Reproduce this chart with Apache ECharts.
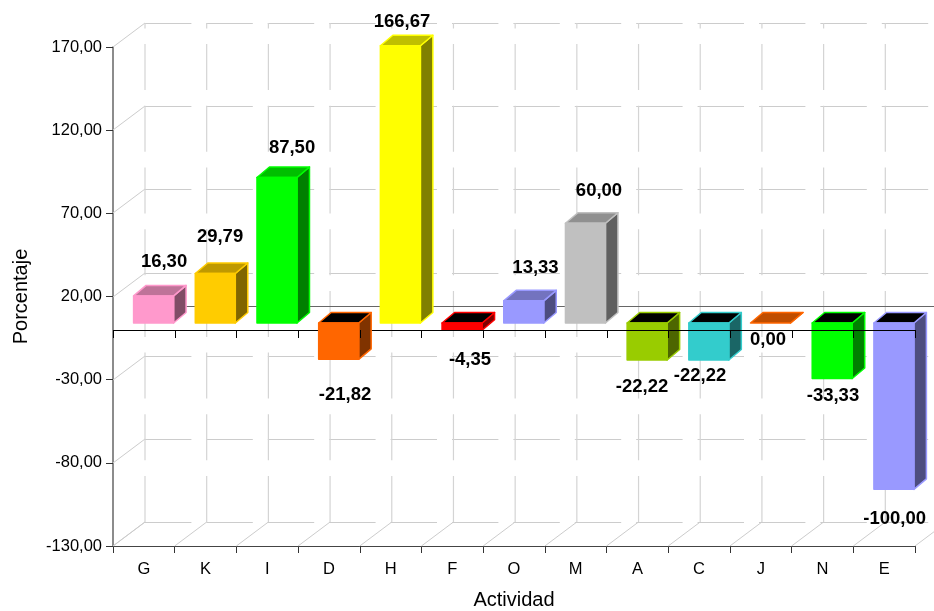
<!DOCTYPE html>
<html>
<head>
<meta charset="utf-8">
<style>html,body{margin:0;padding:0;background:#fff}#c{width:934px;height:611px}</style>
<script src="https://cdn.jsdelivr.net/npm/echarts@6/dist/echarts.min.js"></script>
</head>
<body>
<div id="c"></div>
<script>
const categories = ['G','K','I','D','H','F','O','M','A','C','J','N','E'];
const values = [16.30,29.79,87.50,-21.82,166.67,-4.35,13.33,60.00,-22.22,-22.22,0.00,-33.33,-100.00];
const yTicks = [-130,-80,-30,20,70,120,170];
const barColors = ['#FF99CC','#FFCC00','#00FF00','#FF6600','#FFFF00','#FF0000','#9999FF','#C0C0C0','#99CC00','#33CCCC','#FF6600','#00FF00','#9999FF'];

// style constants (pixels)
const FONT = '"Liberation Sans", Arial, sans-serif';
const WALL_DX = 32, WALL_DY = 24;      // depth of the 3D back wall
const BAR_DX = 12.5, BAR_DY = 10.5;    // depth of each box
const BAR_W = 40;
const labelNudge = [[20.2,-40.7],[14.5,-43.3],[24.8,-36.3],[16.1,28.9],[11.4,-30.6],[17.7,23],[21.5,-39.9],[23.3,-39],[4.6,20.2],[1,9.2],[7.2,10.2],[10.5,10.8],[10.5,22.6]];
const aboveZeroLine = ['D'];

const fmt = v => v.toFixed(2).replace('.', ',');
function shade(hex, f) {
  const n = parseInt(hex.slice(1), 16);
  const c = [n >> 16 & 255, n >> 8 & 255, n & 255].map(x => Math.round(x * f));
  return 'rgb(' + c.join(',') + ')';
}
const indexed = values.map((v, i) => [i, v]);

function renderWall(params, api) {
  const cs = params.coordSys;
  const band = api.size([1, 0])[0];
  const kids = [];
  const grey = '#cccccc';
  const backBottom = cs.y + cs.height - WALL_DY;
  const backTop = cs.y - WALL_DY;
  yTicks.forEach(t => {
    const y = Math.round(api.coord([0, t])[1]);
    kids.push({type:'line', shape:{x1:cs.x, y1:y, x2:cs.x + WALL_DX, y2:y - WALL_DY}, style:{stroke:grey, lineWidth:1}});
    kids.push({type:'line', shape:{x1:cs.x + WALL_DX, y1:y - WALL_DY + .5, x2:960, y2:y - WALL_DY + .5},
      style:{stroke:grey, lineWidth:1, lineDash:[46.4,15]}});
  });
  for (let k = 0; k <= categories.length; k++) {
    const x = cs.x + k * band;
    kids.push({type:'line', shape:{x1:x, y1:cs.y + cs.height, x2:x + WALL_DX, y2:backBottom}, style:{stroke:grey, lineWidth:1}});
    if (k < categories.length) {
      kids.push({type:'line', shape:{x1:x + WALL_DX, y1:backBottom, x2:x + WALL_DX, y2:backTop},
        style:{stroke:'#d4d4d4', lineWidth:1.2, lineDash:[46,15.7]}});
    }
  }
  const y0 = Math.round(api.coord([0, 0])[1]) - WALL_DY + .5;
  kids.push({type:'line', shape:{x1:cs.x + WALL_DX, y1:y0, x2:934, y2:y0}, style:{stroke:'#666666', lineWidth:1}});
  return {type:'group', children:kids};
}

function renderBar(params, api) {
  const i = api.value(0), v = api.value(1);
  const base = barColors[i];
  const c0 = api.coord([i, 0]), c1 = api.coord([i, v]);
  const left = c0[0] + (WALL_DX - BAR_DX) / 2 - BAR_W / 2;
  const shift = (WALL_DY - BAR_DY) / 2;
  const right = left + BAR_W;
  const yBase = c0[1] - shift, yEnd = c1[1] - shift;
  const topY = Math.min(yBase, yEnd), botY = Math.max(yBase, yEnd);
  const stroke = {stroke: base, lineWidth: 1.5, lineJoin: 'round'};
  const poly = (pts, fill) => ({type:'polygon', shape:{points:pts}, style:Object.assign({fill}, stroke)});
  const kids = [];
  kids.push(poly([[right,topY],[right+BAR_DX,topY-BAR_DY],[right+BAR_DX,botY-BAR_DY],[right,botY]], shade(base,.5)));
  const topFill = v < 0 ? '#000000' : shade(base,.75);
  kids.push(poly([[left,topY],[left+BAR_DX,topY-BAR_DY],[right+BAR_DX,topY-BAR_DY],[right,topY]], topFill));
  if (v !== 0) kids.push(poly([[left,topY],[right,topY],[right,botY],[left,botY]], base));
  return {type:'group', children:kids};
}

function renderZeroLine(params, api) {
  const cs = params.coordSys;
  const y = Math.round(api.coord([0, 0])[1]) + .5;
  return {type:'line', shape:{x1:cs.x, y1:y, x2:cs.x + cs.width, y2:y}, style:{stroke:'#000', lineWidth:1.2}};
}

function renderZeroTicks(params, api) {
  const cs = params.coordSys;
  const band = api.size([1, 0])[0];
  const y = Math.round(api.coord([0, 0])[1]);
  const kids = [];
  for (let k = 0; k <= categories.length; k++) {
    const x = Math.round(cs.x + k * band) + .5;
    kids.push({type:'line', shape:{x1:x, y1:y, x2:x, y2:y + 8}, style:{stroke:'#000', lineWidth:1}});
  }
  return {type:'group', children:kids};
}

function renderLabel(params, api) {
  const i = api.value(0), v = api.value(1);
  const c = api.coord([i, v]);
  return {type:'text', style:{
    x: c[0] + labelNudge[i][0], y: c[1] + labelNudge[i][1],
    text: fmt(v), textAlign:'center', textVerticalAlign:'middle',
    font: 'bold 18.5px ' + FONT, fill:'#000'
  }};
}

const customBase = {type:'custom', coordinateSystem:'cartesian2d', encode:{x:0, y:1}, clip:false, silent:true, animation:false};
const chart = echarts.init(document.getElementById('c'), null, {renderer:'canvas'});
chart.setOption({
  backgroundColor:'#ffffff',
  animation:false,
  grid:{left:113, right:19, top:47, bottom:65, containLabel:false, outerBoundsMode:'none'},
  xAxis:{
    type:'category', data:categories, position:'bottom',
    axisLine:{onZero:false, lineStyle:{color:'#444', width:1}},
    axisTick:{show:true, length:7, lineStyle:{color:'#333'}},
    axisLabel:{fontFamily:FONT, fontSize:16.5, color:'#000', margin:15},
    name:'Actividad', nameLocation:'middle', nameGap:44,
    nameTextStyle:{fontFamily:FONT, fontSize:20, color:'#000'},
    splitLine:{show:false}
  },
  yAxis:{
    type:'value', min:-130, max:170,
    axisLine:{show:true, lineStyle:{color:'#666', width:1.5}},
    axisTick:{show:true, length:7, lineStyle:{color:'#333'}, customValues:yTicks},
    axisLabel:{fontFamily:FONT, fontSize:16.5, color:'#000', margin:11, formatter:v => fmt(v), customValues:yTicks},
    name:'Porcentaje', nameLocation:'middle', nameGap:82, nameRotate:90,
    nameTextStyle:{fontFamily:FONT, fontSize:20, color:'#000'},
    splitLine:{show:false}
  },
  series:[
    Object.assign({}, customBase, {name:'wall', z:1, data:[[0,0]], renderItem:renderWall}),
    Object.assign({}, customBase, {name:'bars', z:3, data:indexed.filter(d => !aboveZeroLine.includes(categories[d[0]])), renderItem:renderBar}),
    Object.assign({}, customBase, {name:'zero', z:4, data:[[0,0]], renderItem:renderZeroLine}),
    Object.assign({}, customBase, {name:'barsOver', z:5, data:indexed.filter(d => aboveZeroLine.includes(categories[d[0]])), renderItem:renderBar}),
    Object.assign({}, customBase, {name:'zeroTicks', z:6, data:[[0,0]], renderItem:renderZeroTicks}),
    Object.assign({}, customBase, {name:'labels', z:7, data:indexed, renderItem:renderLabel})
  ]
});
</script>
</body>
</html>
